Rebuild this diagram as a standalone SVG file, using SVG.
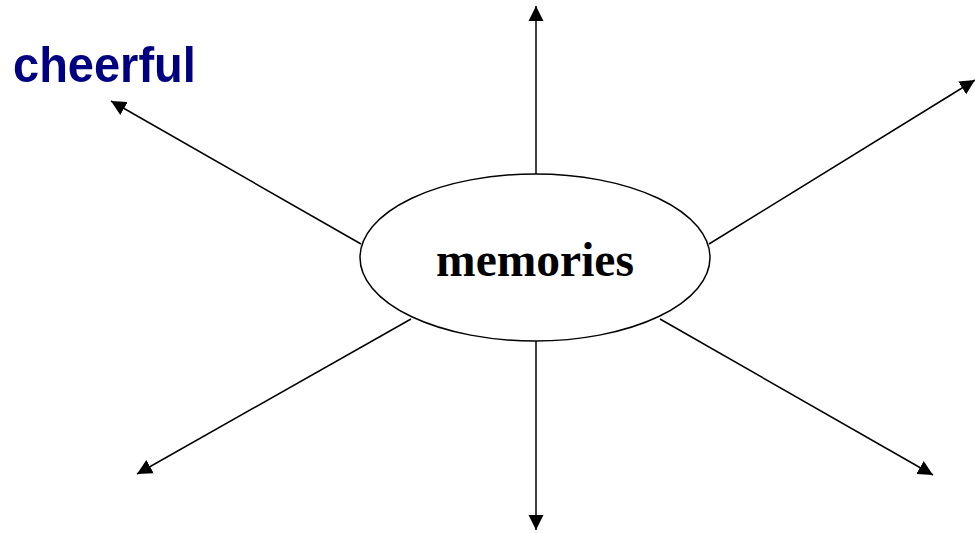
<svg xmlns="http://www.w3.org/2000/svg" width="975" height="533" viewBox="0 0 975 533">
<style>
.c{stroke:#000;stroke-width:1.5;fill:none;marker-end:url(#a)}
.lbl{font-family:"Liberation Sans",Arial,sans-serif;font-weight:bold;fill:#000080}
.ttl{font-family:"Liberation Serif","Times New Roman",serif;font-weight:bold;fill:#000}
</style>
<defs>
<marker id="a" viewBox="0 0 10 10" refX="10" refY="5" markerWidth="15" markerHeight="16" markerUnits="userSpaceOnUse" orient="auto">
<path d="M0,0 L10,5 L0,10 z" fill="#000"/>
</marker>
</defs>
<rect width="975" height="533" fill="#fff"/>
<g id="connectors">
<line class="c" x1="536" y1="174" x2="536" y2="6"/>
<line class="c" x1="536" y1="341" x2="536" y2="530"/>
<line class="c" x1="361" y1="244" x2="111" y2="101"/>
<line class="c" x1="709" y1="244" x2="975" y2="80"/>
<line class="c" x1="411" y1="319" x2="137" y2="474"/>
<line class="c" x1="660" y1="319" x2="933" y2="475"/>
</g>
<g id="memories">
<ellipse cx="535" cy="257.5" rx="175" ry="83.5" fill="#fff" stroke="#000" stroke-width="1.5"/>
<text class="ttl" x="535" y="276" font-size="47.5" text-anchor="middle">memories</text>
</g>
<g id="cheerful">
<text class="lbl" x="13" y="82" font-size="47" transform="translate(13 82) scale(1 1.06) translate(-13 -82)">cheerful</text>
</g>
</svg>
